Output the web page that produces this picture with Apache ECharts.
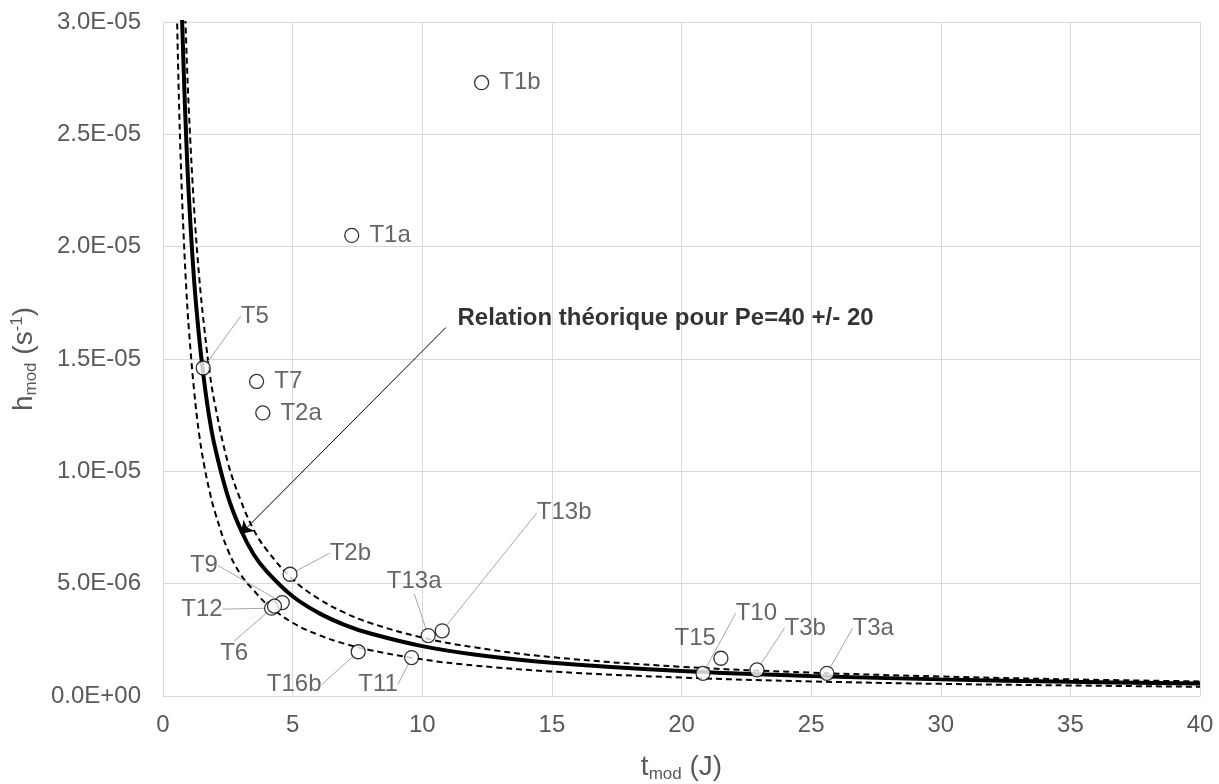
<!DOCTYPE html>
<html>
<head>
    <meta charset="utf-8" />
    <script src="https://cdn.jsdelivr.net/npm/echarts@6/dist/echarts.min.js"></script>
    <title></title>
</head>
<body style="margin:0">
    <div id="main" style="width: 1219px;height:784px;"></div>
</body>
</html>
<script>
    // measured points
    var pointNames = ['T1b', 'T1a', 'T5', 'T7', 'T2a', 'T2b', 'T9', 'T12', 'T6', 'T16b', 'T11', 'T13a', 'T13b', 'T10', 'T15', 'T3b', 'T3a'];
    var pointT = [12.29, 7.28, 1.55, 3.61, 3.85, 4.90, 4.60, 4.19, 4.30, 7.53, 9.59, 10.23, 10.77, 20.83, 21.52, 22.91, 25.61];
    var pointH = [2.73e-5, 2.05e-5, 1.46e-5, 1.40e-5, 1.26e-5, 5.42e-6, 4.16e-6, 3.91e-6, 4.0e-6, 1.97e-6, 1.71e-6, 2.69e-6, 2.90e-6, 1.01e-6, 1.68e-6, 1.16e-6, 1.01e-6];

    // theoretical relation, Pe = 40 and 40 +/- 20
    var curveT = [0.5, 0.6, 0.7, 0.8, 0.9, 1.0, 1.2, 1.4, 1.6, 1.8, 2.0, 2.5, 3, 3.5, 4, 5, 6, 7, 8, 10, 12, 15, 20, 25, 30, 35, 40];
    var mainH = [4.44e-5, 3.7e-5, 3.17e-5, 2.78e-5, 2.47e-5, 2.22e-5, 1.85e-5, 1.59e-5, 1.39e-5, 1.23e-5, 1.11e-5, 8.9e-6, 7.4e-6, 6.3e-6, 5.55e-6, 4.44e-6, 3.7e-6, 3.17e-6, 2.78e-6, 2.22e-6, 1.85e-6, 1.48e-6, 1.11e-6, 8.9e-7, 7.4e-7, 6.3e-7, 5.6e-7];
    var upperH = [5.2e-5, 4.33e-5, 3.71e-5, 3.25e-5, 2.89e-5, 2.6e-5, 2.17e-5, 1.86e-5, 1.63e-5, 1.44e-5, 1.3e-5, 1.04e-5, 8.7e-6, 7.4e-6, 6.5e-6, 5.2e-6, 4.33e-6, 3.71e-6, 3.25e-6, 2.6e-6, 2.17e-6, 1.73e-6, 1.3e-6, 1.04e-6, 8.7e-7, 7.4e-7, 6.5e-7];
    var lowerH = [3.26e-5, 2.72e-5, 2.33e-5, 2.04e-5, 1.81e-5, 1.63e-5, 1.36e-5, 1.16e-5, 1.02e-5, 9.1e-6, 8.2e-6, 6.5e-6, 5.4e-6, 4.7e-6, 4.1e-6, 3.26e-6, 2.72e-6, 2.33e-6, 2.04e-6, 1.63e-6, 1.36e-6, 1.09e-6, 8.2e-7, 6.5e-7, 5.4e-7, 4.7e-7, 4.1e-7];

    var yTickLabels = ['0.0E+00', '5.0E-06', '1.0E-05', '1.5E-05', '2.0E-05', '2.5E-05', '3.0E-05'];

    // annotation
    var noteText = 'Relation théorique pour Pe=40 +/- 20';
    var notePos = [11.34, 1.68e-5];
    var arrowFrom = [10.91, 1.64e-5];
    var arrowTo = [3.0, 7.22e-6];

    // label offsets (px) and leader lines
    var labelDx = [5, 5, 25, 5, 5, 27, -105, -103, -67, -104, -66, -54, 82, 20, -59, 15, 13];
    var labelDy = [0, 0, -52, 0, 0, -21, -37, 1, 47, 33, 27, -54, -118, -60, -20, -42, -45];
    var hasLine = [false, false, true, false, false, true, true, true, true, true, true, true, true, true, false, true, true];

    var font = 'Liberation Sans, Arial, sans-serif';

    function pairs(xs, ys) {
        var out = [];
        for (var i = 0; i < xs.length; i++) out.push([xs[i], ys[i]]);
        return out;
    }

    var pts = [];
    for (var i = 0; i < pointNames.length; i++) {
        pts.push({
            name: pointNames[i],
            value: [pointT[i], pointH[i]],
            labelLine: { show: hasLine[i] }
        });
    }

    var chart = echarts.init(document.getElementById('main'));
    var option = {
        animation: false,
        textStyle: { fontFamily: font },
        grid: { left: 163, right: 19, top: 22, bottom: 88, outerBoundsMode: 'none' },
        xAxis: {
            type: 'value',
            min: 0, max: 40, interval: 5,
            name: '{t|t}{s|mod}{t| (J)}',
            nameLocation: 'middle',
            nameGap: 56,
            nameTextStyle: {
                rich: {
                    t: { fontSize: 28, color: '#595959', fontFamily: font },
                    s: { fontSize: 17, color: '#595959', fontFamily: font, padding: [14, 0, 0, 0] }
                }
            },
            axisLine: { show: true, lineStyle: { color: '#d9d9d9' } },
            axisTick: { show: false },
            axisLabel: { fontSize: 24, color: '#595959', margin: 17 },
            splitLine: { show: true, lineStyle: { color: '#d9d9d9' } }
        },
        yAxis: {
            type: 'value',
            min: 0, max: 3e-5, interval: 5e-6,
            name: '{t|h}{s|mod}{t| (s}{p|-1}{t|)}',
            nameLocation: 'middle',
            nameGap: 114,
            nameTextStyle: {
                rich: {
                    t: { fontSize: 28, color: '#595959', fontFamily: font },
                    s: { fontSize: 17, color: '#595959', fontFamily: font, padding: [14, 0, 0, 0] },
                    p: { fontSize: 17, color: '#595959', fontFamily: font, padding: [0, 0, 14, 0] }
                }
            },
            axisLine: { show: true, lineStyle: { color: '#d9d9d9' } },
            axisTick: { show: false },
            axisLabel: {
                fontSize: 24, color: '#595959', margin: 22,
                formatter: function (v) { return yTickLabels[Math.round(v / 5e-6)]; }
            },
            splitLine: { show: true, lineStyle: { color: '#d9d9d9' } }
        },
        series: [
            {
                type: 'line',
                data: pairs(curveT, upperH),
                showSymbol: false,
                smooth: 0.4,
                clip: true,
                lineStyle: { color: '#000', width: 2, type: [6, 4] },
                z: 2
            },
            {
                type: 'line',
                data: pairs(curveT, lowerH),
                showSymbol: false,
                smooth: 0.4,
                clip: true,
                lineStyle: { color: '#000', width: 2, type: [6, 4] },
                z: 2
            },
            {
                type: 'line',
                data: pairs(curveT, mainH),
                showSymbol: false,
                smooth: 0.4,
                clip: true,
                lineStyle: { color: '#000', width: 4 },
                z: 3,
                markLine: {
                    silent: true,
                    symbol: ['none', 'arrow'],
                    symbolSize: 12,
                    label: { show: false },
                    lineStyle: { color: '#000', width: 1, type: 'solid' },
                    data: [[{ coord: arrowFrom }, { coord: arrowTo }]]
                }
            },
            {
                type: 'scatter',
                data: pts,
                symbol: 'circle',
                symbolSize: 14,
                itemStyle: { color: '#fff', borderColor: '#000', borderWidth: 1.3 },
                z: 5,
                label: {
                    show: true,
                    position: 'right',
                    distance: 5,
                    fontSize: 24,
                    color: '#404040',
                    formatter: '{b}'
                },
                labelLine: { show: true, lineStyle: { color: '#a6a6a6', width: 1 } },
                labelLayout: function (p) {
                    return { dx: labelDx[p.dataIndex], dy: labelDy[p.dataIndex] };
                }
            },
            {
                type: 'scatter',
                data: [notePos],
                symbolSize: 1,
                silent: true,
                itemStyle: { color: 'rgba(0,0,0,0)' },
                label: {
                    show: true,
                    position: 'right',
                    distance: 0,
                    fontSize: 24,
                    fontWeight: 'bold',
                    color: '#000',
                    formatter: noteText
                },
                z: 6
            }
        ]
    };
    chart.setOption(option);
</script>
